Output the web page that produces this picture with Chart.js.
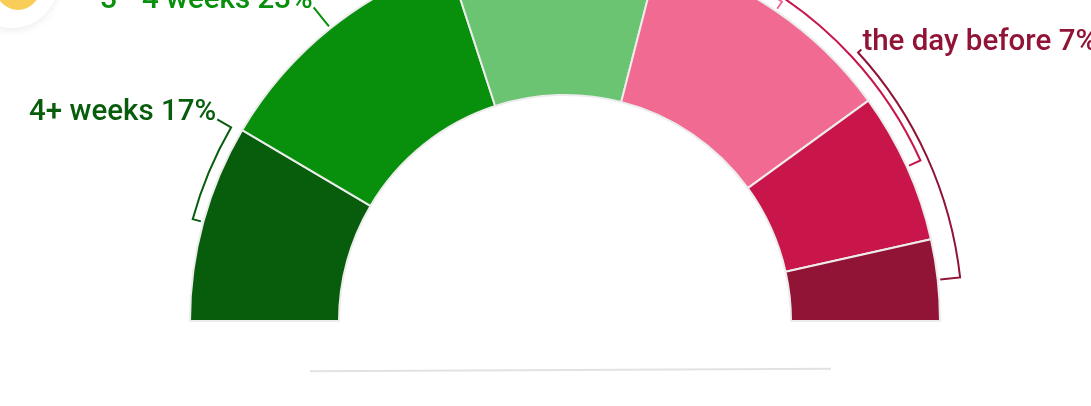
<!DOCTYPE html>
<html>
<head>
<meta charset="utf-8">
<script src="https://cdn.jsdelivr.net/npm/chart.js@4.4.1/dist/chart.umd.min.js"></script>
<style>
  html, body { margin: 0; padding: 0; background: #ffffff; overflow: hidden; }
  #wrap { position: relative; width: 1091px; height: 406px; overflow: hidden; background: #fff; }
  #chart { position: absolute; left: 0; top: 0; }
  .btn { position: absolute; left: -34px; top: -64px; width: 92px; height: 92px; border-radius: 50%;
         background: #fff; box-shadow: 0 2px 8px rgba(0,0,0,0.08); }
  .dot { position: absolute; left: -4px; top: -34px; width: 44px; height: 44px; border-radius: 50%; background: #f8cd58; }
  .rule { position: absolute; left: 310px; top: 369px; width: 521px; height: 2px; background: #e2e2e2; transform: rotate(-0.25deg); }
</style>
</head>
<body>
<div id="wrap">
  <canvas id="chart" width="1091" height="406"></canvas>
  <div class="btn"></div>
  <div class="dot"></div>
  <div class="rule"></div>
</div>
<script>
// ---- data ----
const categories = ['4+ weeks', '3 - 4 weeks', '1 - 2 weeks', 'the week before', '2 - 3 days before', 'the day before'];
const values = [17, 23, 18, 22, 13, 7];
const colors = ['#075d0b', '#08900c', '#6bc472', '#f06a91', '#c8164a', '#911336'];

// ---- label layout (annotation placement, degrees from the left end of the arc) ----
const labelAngleDeg = [30.1, null, null, 106, 119, 137.5];
const bracketRadius = [386, 386, 386, 386, 390, 397.5];

const bracketPlugin = {
  id: 'brackets',
  afterDatasetsDraw(chart) {
    const meta = chart.getDatasetMeta(0);
    const c = chart.ctx;
    meta.data.forEach((arc, i) => {
      const p = arc.getProps(['x', 'y', 'startAngle', 'endAngle', 'outerRadius'], true);
      const mid = (p.startAngle + p.endAngle) / 2;
      const la = labelAngleDeg[i] == null ? mid : (-Math.PI + labelAngleDeg[i] * Math.PI / 180);
      const rb = bracketRadius[i];
      const rIn = p.outerRadius + 2.5;
      const rOut = p.outerRadius + 27;
      const pt = (r, a) => [p.x + r * Math.cos(a), p.y + r * Math.sin(a)];
      c.save();
      c.strokeStyle = colors[i];
      c.lineWidth = 2;
      c.lineJoin = 'miter';
      c.beginPath();
      const a0 = pt(rIn, mid);
      const a1 = pt(rb, mid);
      c.moveTo(a0[0], a0[1]);
      c.lineTo(a1[0], a1[1]);
      if (Math.abs(la - mid) > 1e-6) c.arc(p.x, p.y, rb, mid, la, la < mid);
      const e = pt(rOut, la);
      c.lineTo(e[0], e[1]);
      c.stroke();
      c.fillStyle = colors[i];
      c.font = '500 29.5px Roboto';
      c.textBaseline = 'alphabetic';
      const txt = categories[i] + ' ' + values[i] + '%';
      if (Math.cos(la) < 0) {
        c.textAlign = 'right';
        c.fillText(txt, e[0] - 1, e[1] + 1);
      } else {
        c.textAlign = 'left';
        c.fillText(txt, e[0] + 1, e[1] + 1);
      }
      c.restore();
    });
  }
};

new Chart(document.getElementById('chart'), {
  type: 'doughnut',
  data: {
    labels: categories,
    datasets: [{
      data: values,
      backgroundColor: colors,
      borderColor: '#ececec',
      borderWidth: 2,
      clip: false
    }]
  },
  options: {
    responsive: false,
    animation: false,
    events: [],
    rotation: -90,
    circumference: 180,
    radius: 375,
    cutout: '60.27%',
    layout: { padding: { left: 39, right: 0, top: 0, bottom: 139 } },
    plugins: { legend: { display: false }, tooltip: { enabled: false } }
  },
  plugins: [bracketPlugin]
});
</script>
</body>
</html>
